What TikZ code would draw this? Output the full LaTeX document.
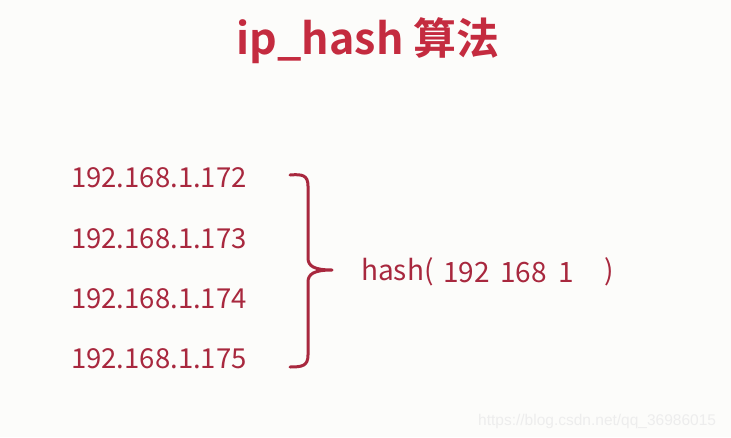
\documentclass[tikz,border=0pt]{standalone}
\usepackage{fontspec}
\setmainfont{Noto Sans CJK SC}
\newfontfamily\cjkbold{Noto Sans CJK SC Bold}
\newfontfamily\wmfont{Liberation Sans}
\definecolor{bgc}{HTML}{FCFCFA}
\definecolor{titlered}{HTML}{C42B3F}
\definecolor{ipred}{HTML}{A8283E}
\definecolor{wmgray}{HTML}{EDEDED}
\begin{document}
\begin{tikzpicture}[x=1pt,y=-1pt,
  iptext/.style={anchor=base west,inner sep=0pt,text=ipred,font=\fontsize{27.5}{27.5}\selectfont},
  hashtext/.style={anchor=base west,inner sep=0pt,text=ipred,font=\fontsize{28}{28}\selectfont},
  bracestyle/.style={draw=ipred,line width=3pt,line cap=round,line join=round}]
\fill[bgc] (0,0) rectangle (731,437);
\useasboundingbox (0,0) rectangle (731,437);
\node[anchor=base,inner sep=0pt,text=titlered,font=\cjkbold\fontsize{43}{43}\selectfont] (title) at (368,54) {ip\_hash 算法};
\node[iptext] (ip1) at (71,187) {192.168.1.172};
\node[iptext] (ip2) at (71,248) {192.168.1.173};
\node[iptext] (ip3) at (71,308) {192.168.1.174};
\node[iptext] (ip4) at (71,368) {192.168.1.175};
\coordinate (btop) at (290,175);
\coordinate (bbot) at (290,367);
\coordinate (btip) at (332,270);
\draw[bracestyle] (btop) .. controls (302,174) and (308,175) .. (308,186)
  -- (308,258) .. controls (308,266) and (314,270) .. (btip)
  .. controls (314,270) and (308,274) .. (308,282)
  -- (308,355) .. controls (308,366) and (302,367) .. (bbot);
\node[hashtext] (h1) at (361,280) {hash(};
\node[hashtext] (h2) at (443,282) {192};
\node[hashtext] (h3) at (500,282) {168};
\node[hashtext] (h4) at (558,282) {1};
\node[hashtext] (h5) at (604,280) {)};
\node[anchor=base west,inner sep=0pt,text=wmgray,font=\wmfont\fontsize{15.5}{15.5}\selectfont] (wm) at (478,425) {https://blog.csdn.net/qq\_36986015};
\end{tikzpicture}
\end{document}
